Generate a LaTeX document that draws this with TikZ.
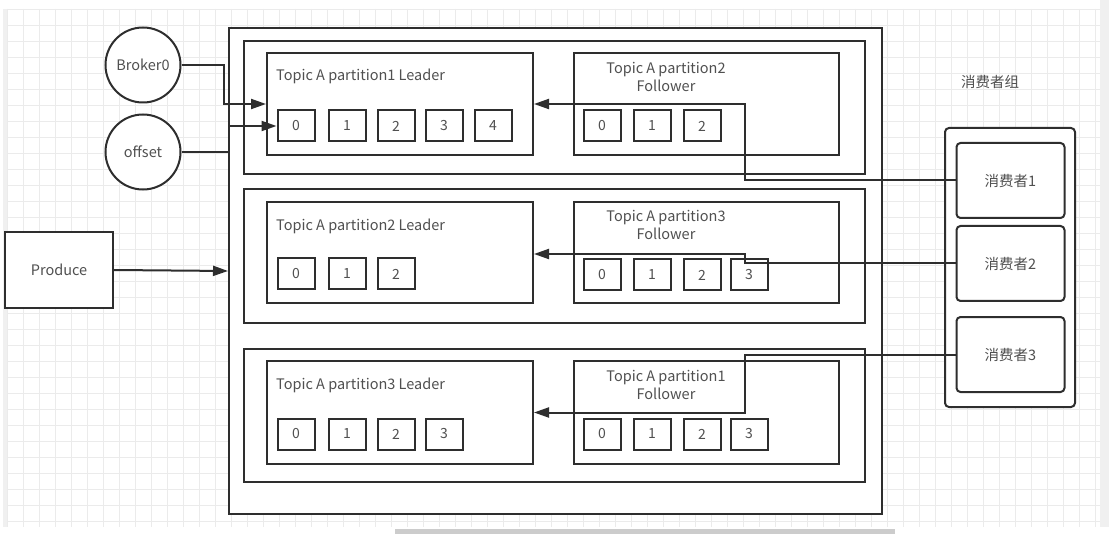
\documentclass[tikz,border=0pt]{standalone}
\usepackage{fontspec}
\setmainfont{Noto Sans CJK SC}
\usetikzlibrary{arrows.meta}
\definecolor{gridc}{HTML}{EBEBEB}
\definecolor{linec}{HTML}{2E2E2E}
\definecolor{txtc}{HTML}{505050}
\definecolor{barc}{HTML}{CCCCCC}
\definecolor{sidec}{HTML}{F0F0F0}
\tikzset{
  box/.style={draw=linec, line width=2pt, fill=white, inner sep=0pt, anchor=north west},
  sq/.style={draw=linec, line width=2pt, fill=white, minimum width=37pt, minimum height=31pt, inner sep=0pt, text=txtc, font=\fontsize{14}{16}\selectfont},
  circ/.style={draw=linec, line width=2pt, fill=white, circle, minimum size=75pt, inner sep=0pt, text=txtc, font=\fontsize{14.5}{16}\selectfont},
  cons/.style={draw=linec, line width=2pt, fill=white, rounded corners=4pt, minimum width=108pt, minimum height=75pt, inner sep=0pt, text=txtc, font=\fontsize{14.5}{16}\selectfont},
  lbl/.style={text=txtc, font=\fontsize{14.5}{18}\selectfont, inner sep=0pt},
  conn/.style={draw=linec, line width=2pt},
  arr/.style={conn, -{Triangle[length=15pt,width=10pt]}},
}
\begin{document}
\begin{tikzpicture}[x=1pt,y=-1pt]
\useasboundingbox (0,0) rectangle (1109,540);
\fill[white] (0,0) rectangle (1109,540);
% grid
\foreach \gx in {7,23,...,1100} \draw[gridc, line width=0.9pt] (\gx,9) -- (\gx,527);
\foreach \gy in {9,25,...,527} \draw[gridc, line width=0.9pt] (7,\gy) -- (1100,\gy);
\fill[sidec] (3,9) rectangle (7,527);
\fill[sidec] (1100,0) rectangle (1109,527);
\fill[barc] (395,529) rectangle (895,534);

% outer broker box
\node[box, minimum width=653pt, minimum height=486pt] (outer) at (228,27) {};
% rows
\node[box, minimum width=621pt, minimum height=133pt] (r1) at (243,40) {};
\node[box, minimum width=621pt, minimum height=134pt] (r2) at (243,188) {};
\node[box, minimum width=621pt, minimum height=133pt] (r3) at (243,348) {};
% partition boxes
\node[box, minimum width=266pt, minimum height=102pt] (l1) at (266,52) {};
\node[box, minimum width=265pt, minimum height=102pt] (f1) at (573,52) {};
\node[box, minimum width=266pt, minimum height=101pt] (l2) at (266,201) {};
\node[box, minimum width=265pt, minimum height=101pt] (f2) at (573,201) {};
\node[box, minimum width=266pt, minimum height=103pt] (l3) at (266,360) {};
\node[box, minimum width=265pt, minimum height=103pt] (f3) at (573,360) {};

% titles
\node[lbl, anchor=west] (l1t) at (276,76) {Topic A partition1 Leader};
\node[lbl, anchor=west] (l2t) at (276,226) {Topic A partition2 Leader};
\node[lbl, anchor=west] (l3t) at (276,385) {Topic A partition3 Leader};
\node[lbl, align=center] (f1t) at (666,77) {Topic A partition2\\Follower};
\node[lbl, align=center] (f2t) at (666,225) {Topic A partition3\\Follower};
\node[lbl, align=center] (f3t) at (666,385) {Topic A partition1\\Follower};

% squares
\foreach \i/\sx in {0/296,1/347,2/396,3/444,4/493} \node[sq] (l1s\i) at (\sx,126) {\i};
\foreach \i/\sx in {0/296,1/347,2/396} \node[sq] (l2s\i) at (\sx,274) {\i};
\foreach \i/\sx in {0/296,1/347,2/396,3/444} \node[sq] (l3s\i) at (\sx,434) {\i};
\foreach \i/\sx in {0/602,1/652,2/702} \node[sq] (f1s\i) at (\sx,126) {\i};
\foreach \i/\sx in {0/602,1/652,2/702,3/749} \node[sq] (f2s\i) at (\sx,275) {\i};
\foreach \i/\sx in {0/602,1/652,2/702,3/749} \node[sq] (f3s\i) at (\sx,434) {\i};

% broker / offset
\node[circ] (b0) at (143,65) {Broker0};
\node[circ] (off) at (143,152) {offset};
% producer
\node[draw=linec, line width=2pt, fill=white, minimum width=108pt, minimum height=76pt, inner sep=0pt, text=txtc, font=\fontsize{14.5}{16}\selectfont] (prod) at (59,270) {Produce};

% consumer group
\node[draw=linec, line width=2pt, fill=white, rounded corners=4pt, minimum width=130pt, minimum height=279pt, inner sep=0pt] (grp) at (1010,267.5) {};
\node[lbl] (grpt) at (990,82) {消费者组};
\node[cons] (c1) at (1010.5,180.5) {消费者1};
\node[cons] (c2) at (1010.5,263.5) {消费者2};
\node[cons] (c3) at (1010.5,354.5) {消费者3};

% connectors
\draw[arr] (b0.east) -- ++(42,0) |- (l1.west);
\draw[arr] (off.east) -- ++(47,0) |- (l1s0.west);
\draw[arr] (prod.east) -- (outer.west);
\draw[arr] (c1.west) -- ++(-211,0) |- (l1.east);
\draw[arr] (c2.west) -- ++(-211,0) |- ([yshift=-1.5pt]l2.east);
\draw[arr] (c3.west) -- ++(-211,0) |- (l3.east);
\end{tikzpicture}
\end{document}
